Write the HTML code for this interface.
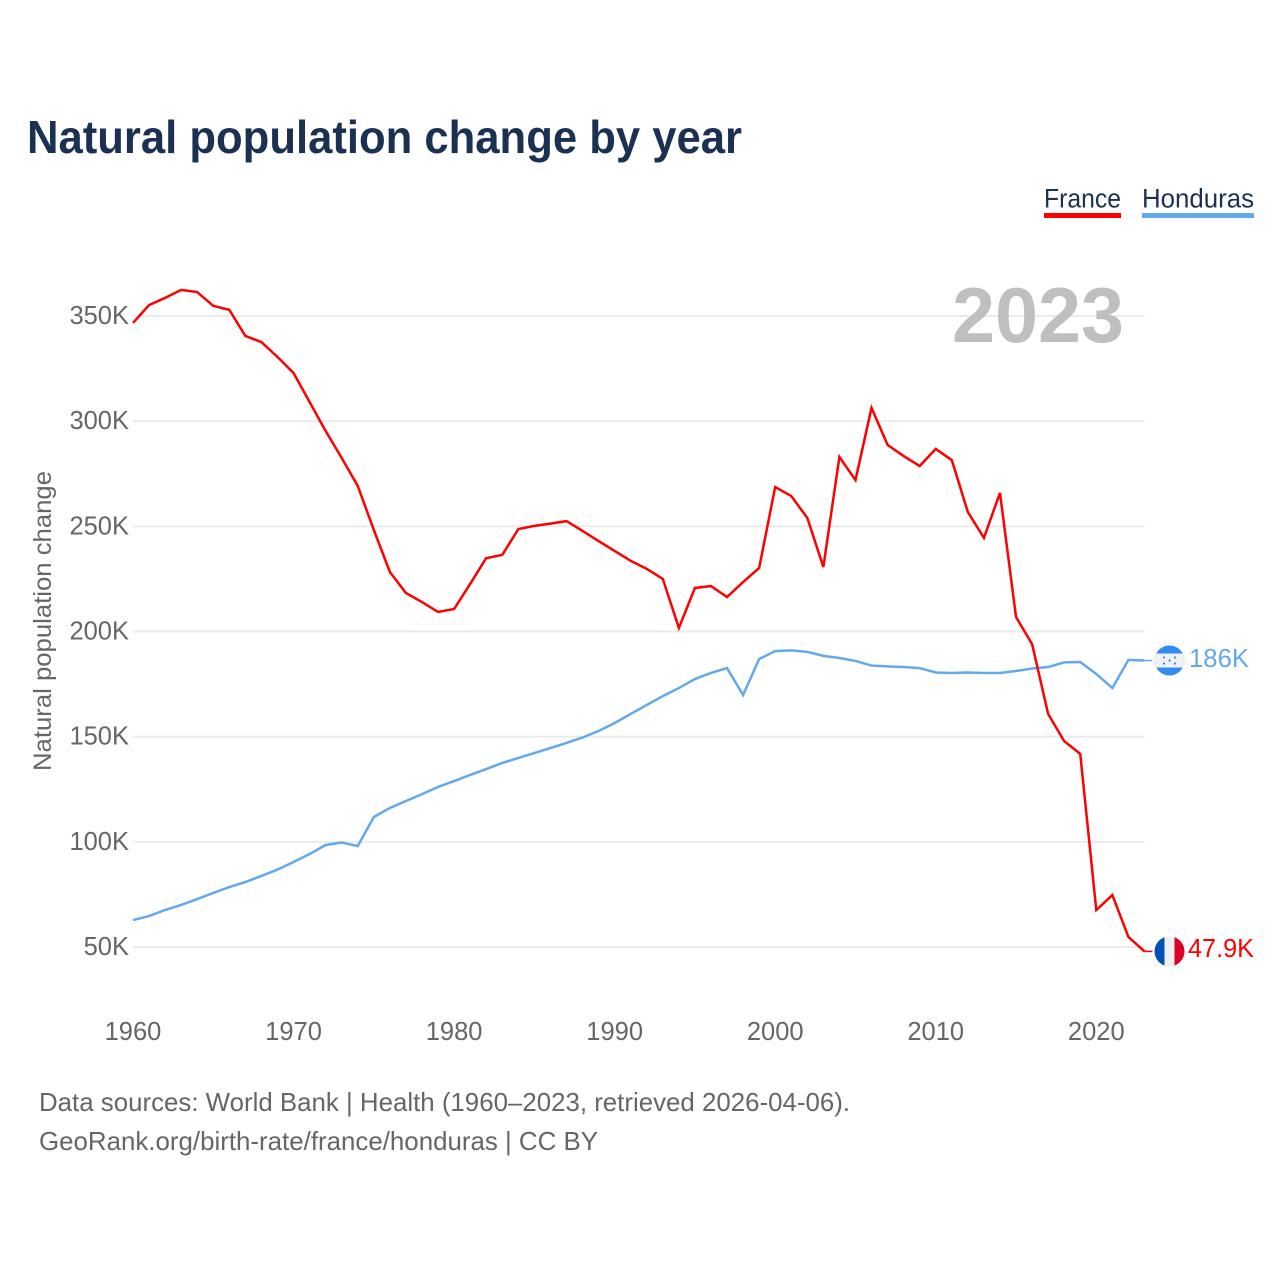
<!DOCTYPE html>
<html lang="en">
<head>
<meta charset="utf-8">
<title>Natural population change by year</title>
<style>
html,body{margin:0;padding:0;background:#fff;}
svg{display:block;font-family:"Liberation Sans",sans-serif;}
</style>
</head>
<body>
<svg id="chart" xmlns="http://www.w3.org/2000/svg" width="1280" height="1280" viewBox="0 0 1280 1280">
  <defs>
    <clipPath id="flag-clip-hn"><circle id="clip-hn" r="15"></circle></clipPath>
    <clipPath id="flag-clip-fr"><circle id="clip-fr" r="15"></circle></clipPath>
  </defs>
  <rect width="1280" height="1280" fill="#fff"></rect>
  <text x="27" y="153" font-size="46" font-weight="700" fill="#1a3152" textLength="715" lengthAdjust="spacingAndGlyphs">Natural population change by year</text>

  <g>
    <text x="1044" y="207.5" font-size="27" fill="#1a3152" textLength="77" lengthAdjust="spacingAndGlyphs">France</text>
    <rect x="1044" y="213" width="77" height="5" fill="#ff0000"></rect>
  </g>
  <g>
    <text x="1142" y="207.5" font-size="27" fill="#1a3152" textLength="112" lengthAdjust="spacingAndGlyphs">Honduras</text>
    <rect x="1142" y="213" width="112" height="5" fill="#64a8ec"></rect>
  </g>

  <g id="grid"></g>
  <text x="952" y="342" font-size="78" font-weight="700" fill="#bfbfbf" textLength="172" lengthAdjust="spacingAndGlyphs">2023</text>
  <g id="y-axis"></g>
  <g id="x-axis"></g>
  <text transform="translate(51 771) rotate(-90)" x="0" y="0" font-size="25" fill="#666" textLength="300" lengthAdjust="spacingAndGlyphs">Natural population change</text>

  <polyline id="line-honduras" fill="none" stroke="#64a8ec" stroke-width="2.5" stroke-linejoin="miter"></polyline>
  <polyline id="line-france" fill="none" stroke="#ff0000" stroke-width="2.5" stroke-linejoin="miter"></polyline>

  <g id="end-honduras">
    <line id="leader-hn" stroke="#64a8ec" stroke-width="1.5"></line>
    <g id="flag-hn" clip-path="url(#flag-clip-hn)">
      <rect x="-15" y="-15" width="30" height="30" fill="#338af3"></rect>
      <rect x="-15" y="-7" width="30" height="14" fill="#f0f0f0"></rect>
      <circle cx="-5.5" cy="-3" r="1.1" fill="#338af3"></circle>
      <circle cx="5.5" cy="-3" r="1.1" fill="#338af3"></circle>
      <circle cx="0" cy="0" r="1.1" fill="#338af3"></circle>
      <circle cx="-5.5" cy="3" r="1.1" fill="#338af3"></circle>
      <circle cx="5.5" cy="3" r="1.1" fill="#338af3"></circle>
    </g>
    <text id="label-hn" x="1189" font-size="26" fill="#64a8ec" textLength="60" lengthAdjust="spacingAndGlyphs"></text>
  </g>
  <g id="end-france">
    <line id="leader-fr" stroke="#ff0000" stroke-width="1.5"></line>
    <g id="flag-fr" clip-path="url(#flag-clip-fr)">
      <rect x="-15" y="-15" width="30" height="30" fill="#f0f0f0"></rect>
      <rect x="-15" y="-15" width="10" height="30" fill="#0052b4"></rect>
      <rect x="5" y="-15" width="10" height="30" fill="#d80027"></rect>
    </g>
    <text id="label-fr" x="1188" font-size="26" fill="#ff0000" textLength="66" lengthAdjust="spacingAndGlyphs"></text>
  </g>

  <text x="39" y="1111" font-size="26" fill="#666" textLength="811" lengthAdjust="spacingAndGlyphs">Data sources: World Bank | Health (1960–2023, retrieved 2026-04-06).</text>
  <text x="39" y="1150" font-size="26" fill="#666" textLength="559" lengthAdjust="spacingAndGlyphs">GeoRank.org/birth-rate/france/honduras | CC BY</text>
</svg>
<script>
const years = [1960,1961,1962,1963,1964,1965,1966,1967,1968,1969,1970,1971,1972,1973,1974,1975,1976,1977,1978,1979,1980,1981,1982,1983,1984,1985,1986,1987,1988,1989,1990,1991,1992,1993,1994,1995,1996,1997,1998,1999,2000,2001,2002,2003,2004,2005,2006,2007,2008,2009,2010,2011,2012,2013,2014,2015,2016,2017,2018,2019,2020,2021,2022,2023];
const franceValues = [346.7,355.2,358.6,362.4,361.4,354.8,352.9,340.5,337.6,330.5,322.9,309.1,295.3,282.5,269.2,248.3,228.3,218.3,214,209.3,210.7,222.6,234.9,236.4,248.7,250.2,251.3,252.5,247.8,243,238.3,233.6,229.8,225,201.7,220.7,221.6,216.4,223.5,230.2,268.7,264.4,254,230.7,283,272,306.3,288.7,283.4,278.7,286.8,281.5,256.8,244.5,265.9,206.9,194,160.8,147.9,141.8,67.6,74.7,54.8,47.9];
const hondurasValues = [62.8,64.7,67.6,70,72.8,75.7,78.5,80.9,83.8,86.8,90.4,94.2,98.5,99.7,98,111.8,116.1,119.4,122.7,126.1,128.9,131.8,134.6,137.5,139.9,142.2,144.6,147,149.6,152.7,156.5,160.8,165.1,169.3,173.1,177.4,180.3,182.6,169.8,186.9,190.7,191,190.3,188.4,187.4,186,183.8,183.4,183.1,182.6,180.5,180.3,180.5,180.3,180.3,181.2,182.4,183.1,185.3,185.5,179.8,173.1,186.5,186.2];
const yTickValues = [50,100,150,200,250,300,350];
const yTickLabels = ["50K","100K","150K","200K","250K","300K","350K"];
const xTickValues = [1960,1970,1980,1990,2000,2010,2020];
const xTickLabels = ["1960","1970","1980","1990","2000","2010","2020"];
const endLabels = ["186K","47.9K"];

const NS = "http://www.w3.org/2000/svg";
function xScale(year){ return 133 + (year - 1960) * (963.3 / 60); }
function yScale(v){ return 947 - (v - 50) * (631 / 300); }
function pointsFor(values){
  return values.map(function(v,i){ return xScale(years[i]).toFixed(2) + "," + yScale(v).toFixed(2); }).join(" ");
}

const grid = document.getElementById("grid");
const yAxis = document.getElementById("y-axis");
const xAxis = document.getElementById("x-axis");

yTickValues.forEach(function(v,i){
  const y = yScale(v);
  const line = document.createElementNS(NS,"line");
  
  
  line.setAttribute("x1",133);
  line.setAttribute("x2",xScale(2023));
  line.setAttribute("y1",y);
  line.setAttribute("y2",y);
  line.setAttribute("stroke","#ebebeb");
  line.setAttribute("stroke-width","2");
  grid.appendChild(line);

  const t = document.createElementNS(NS,"text");
  
  
  t.setAttribute("x",129);
  t.setAttribute("y",y + 8);
  t.setAttribute("text-anchor","end");
  t.setAttribute("font-size","25.5");
  t.setAttribute("fill","#666");
  t.textContent = yTickLabels[i];
  yAxis.appendChild(t);
});

xTickValues.forEach(function(v,i){
  const t = document.createElementNS(NS,"text");
  
  
  t.setAttribute("x",xScale(v));
  t.setAttribute("y",1040);
  t.setAttribute("text-anchor","middle");
  t.setAttribute("font-size","25.5");
  t.setAttribute("fill","#666");
  t.textContent = xTickLabels[i];
  xAxis.appendChild(t);
});

document.getElementById("line-france").setAttribute("points", pointsFor(franceValues));
document.getElementById("line-honduras").setAttribute("points", pointsFor(hondurasValues));

function placeEnd(suffix, values, label, dy){
  const endX = xScale(years[years.length - 1]);
  const y = yScale(values[values.length - 1]);
  const leader = document.getElementById("leader-" + suffix);
  leader.setAttribute("x1", endX);
  leader.setAttribute("x2", endX + 8);
  leader.setAttribute("y1", y);
  leader.setAttribute("y2", y);
  document.getElementById("flag-" + suffix).setAttribute("transform", "translate(1169.5 " + y + ")");
  const clip = document.getElementById("clip-" + suffix);
  clip.setAttribute("cx", 0);
  clip.setAttribute("cy", 0);
  const text = document.getElementById("label-" + suffix);
  text.setAttribute("y", y + dy);
  text.textContent = label;
}
placeEnd("hn", hondurasValues, endLabels[0], 6.5);
placeEnd("fr", franceValues, endLabels[1], 5.5);
</script>
</body>
</html>
